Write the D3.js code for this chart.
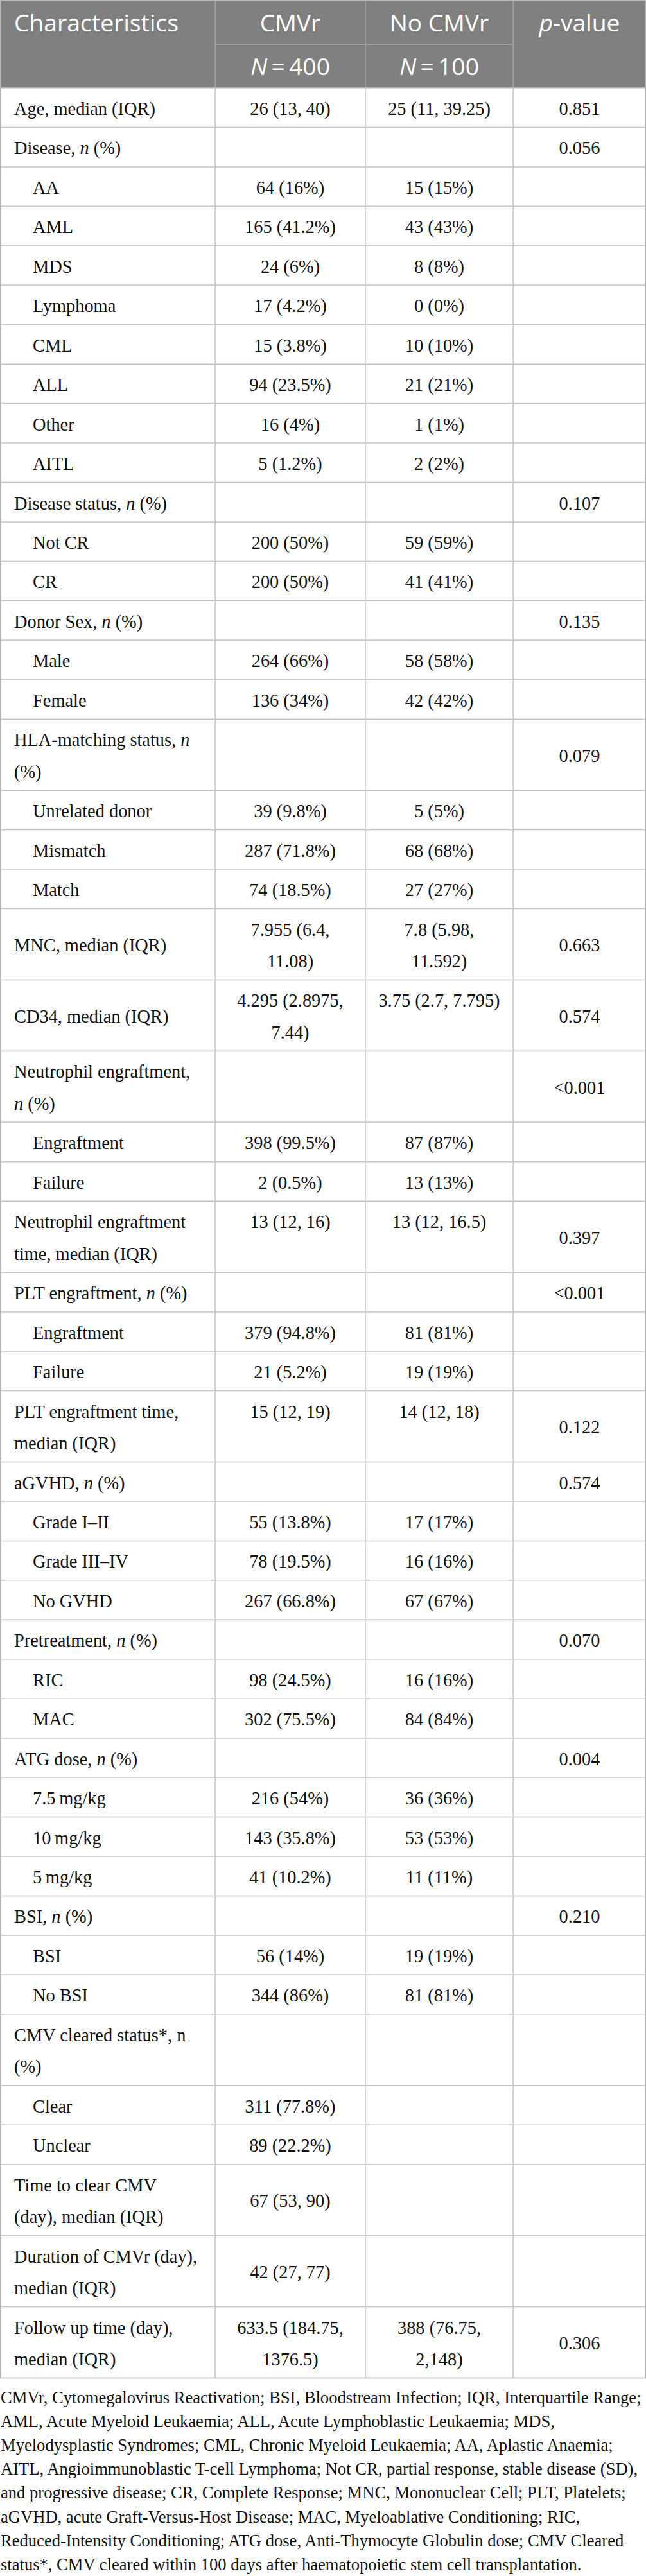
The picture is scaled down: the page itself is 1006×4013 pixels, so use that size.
<!DOCTYPE html>
<html>
<head>
<meta charset="utf-8">
<script src="https://cdn.jsdelivr.net/npm/d3@7"></script>
<style>
  body { margin: 0; background: #fff; }
  svg { display: block; }
</style>
</head>
<body>
<script>
// table content, one entry per row ("\n" breaks a cell, _n_ is italic)
const characteristics = [
  "Age, median (IQR)", "Disease, _n_ (%)", "AA", "AML", "MDS", "Lymphoma", "CML", "ALL", "Other", "AITL",
  "Disease status, _n_ (%)", "Not CR", "CR",
  "Donor Sex, _n_ (%)", "Male", "Female",
  "HLA-matching status, _n_\n(%)", "Unrelated donor", "Mismatch", "Match",
  "MNC, median (IQR)", "CD34, median (IQR)",
  "Neutrophil engraftment,\n_n_ (%)", "Engraftment", "Failure",
  "Neutrophil engraftment\ntime, median (IQR)",
  "PLT engraftment, _n_ (%)", "Engraftment", "Failure",
  "PLT engraftment time,\nmedian (IQR)",
  "aGVHD, _n_ (%)", "Grade I\u2013II", "Grade III\u2013IV", "No GVHD",
  "Pretreatment, _n_ (%)", "RIC", "MAC",
  "ATG dose, _n_ (%)", "7.5\u2009mg/kg", "10\u2009mg/kg", "5\u2009mg/kg",
  "BSI, _n_ (%)", "BSI", "No BSI",
  "CMV cleared status*, n\n(%)", "Clear", "Unclear",
  "Time to clear CMV\n(day), median (IQR)",
  "Duration of CMVr (day),\nmedian (IQR)",
  "Follow up time (day),\nmedian (IQR)"
];
const subLevel = [
  0, 0, 1, 1, 1, 1, 1, 1, 1, 1,
  0, 1, 1,
  0, 1, 1,
  0, 1, 1, 1,
  0, 0,
  0, 1, 1,
  0,
  0, 1, 1,
  0,
  0, 1, 1, 1,
  0, 1, 1,
  0, 1, 1, 1,
  0, 1, 1,
  0, 1, 1,
  0, 0, 0
];
const cmvr = [
  "26 (13, 40)", "", "64 (16%)", "165 (41.2%)", "24 (6%)", "17 (4.2%)", "15 (3.8%)", "94 (23.5%)", "16 (4%)", "5 (1.2%)",
  "", "200 (50%)", "200 (50%)",
  "", "264 (66%)", "136 (34%)",
  "", "39 (9.8%)", "287 (71.8%)", "74 (18.5%)",
  "7.955 (6.4,\n11.08)", "4.295 (2.8975,\n7.44)",
  "", "398 (99.5%)", "2 (0.5%)",
  "13 (12, 16)\n",
  "", "379 (94.8%)", "21 (5.2%)",
  "15 (12, 19)\n",
  "", "55 (13.8%)", "78 (19.5%)", "267 (66.8%)",
  "", "98 (24.5%)", "302 (75.5%)",
  "", "216 (54%)", "143 (35.8%)", "41 (10.2%)",
  "", "56 (14%)", "344 (86%)",
  "", "311 (77.8%)", "89 (22.2%)",
  "67 (53, 90)",
  "42 (27, 77)",
  "633.5 (184.75,\n1376.5)"
];
const noCmvr = [
  "25 (11, 39.25)", "", "15 (15%)", "43 (43%)", "8 (8%)", "0 (0%)", "10 (10%)", "21 (21%)", "1 (1%)", "2 (2%)",
  "", "59 (59%)", "41 (41%)",
  "", "58 (58%)", "42 (42%)",
  "", "5 (5%)", "68 (68%)", "27 (27%)",
  "7.8 (5.98,\n11.592)", "3.75 (2.7, 7.795)\n",
  "", "87 (87%)", "13 (13%)",
  "13 (12, 16.5)\n",
  "", "81 (81%)", "19 (19%)",
  "14 (12, 18)\n",
  "", "17 (17%)", "16 (16%)", "67 (67%)",
  "", "16 (16%)", "84 (84%)",
  "", "36 (36%)", "53 (53%)", "11 (11%)",
  "", "19 (19%)", "81 (81%)",
  "", "", "",
  "",
  "",
  "388 (76.75,\n2,148)"
];
const pValues = [
  "0.851", "0.056", "", "", "", "", "", "", "", "",
  "0.107", "", "",
  "0.135", "", "",
  "0.079", "", "", "",
  "0.663", "0.574",
  "<0.001", "", "",
  "0.397",
  "<0.001", "", "",
  "0.122",
  "0.574", "", "", "",
  "0.070", "", "",
  "0.004", "", "", "",
  "0.210", "", "",
  "", "", "",
  "",
  "",
  "0.306"
];
const headerTop = ["Characteristics", "CMVr", "No CMVr", "_p_-value"];
const headerN = ["", "_N_\u2009=\u2009400", "_N_\u2009=\u2009100", ""];
const footnote = [
  "CMVr, Cytomegalovirus Reactivation; BSI, Bloodstream Infection; IQR, Interquartile Range;",
  "AML, Acute Myeloid Leukaemia; ALL, Acute Lymphoblastic Leukaemia; MDS,",
  "Myelodysplastic Syndromes; CML, Chronic Myeloid Leukaemia; AA, Aplastic Anaemia;",
  "AITL, Angioimmunoblastic T-cell Lymphoma; Not CR, partial response, stable disease (SD),",
  "and progressive disease; CR, Complete Response; MNC, Mononuclear Cell; PLT, Platelets;",
  "aGVHD, acute Graft-Versus-Host Disease; MAC, Myeloablative Conditioning; RIC,",
  "Reduced-Intensity Conditioning; ATG dose, Anti-Thymocyte Globulin dose; CMV Cleared",
  "status*, CMV cleared within 100 days after haematopoietic stem cell transplantation."
];

const width = 1006;
const height = 4013;
const colEdges = [0, 335, 569, 799, 1006];
const headerH = 137;
const lineH = 49.5;
const rowPad = 11.95;
const serif = "'Liberation Serif', 'Times New Roman', serif";
const sans = "'Open Sans', 'Noto Sans', sans-serif";

const svg = d3.select('body').append('svg')
  .attr('width', width)
  .attr('height', height);

// fit a font size so a sample string has a given width
function fitSize(family, sample, target) {
  const probe = svg.append('text').attr('font-family', family).attr('font-size', 100).text(sample);
  const w = probe.node().getComputedTextLength();
  probe.remove();
  return 100 * target / w;
}
const bodySize = fitSize(serif, "Age, median (IQR)", 220);
const headSize = fitSize(sans, "Characteristics", 256);
const noteSize = fitSize(serif, footnote[0], 998);

// write a line that may contain _italic_ pieces
function writeLine(sel, str) {
  str.split(/(_[^_]+_)/).filter(s => s.length).forEach(part => {
    const it = part.startsWith('_') && part.endsWith('_');
    sel.append('tspan')
      .attr('font-style', it ? 'italic' : null)
      .text(it ? part.slice(1, -1) : part);
  });
}

// rows
const rows = characteristics.map((c, i) => ({
  cells: [c, cmvr[i], noCmvr[i], pValues[i]],
  sub: subLevel[i],
  lines: d3.max([c, cmvr[i], noCmvr[i], pValues[i]], s => s.split('\n').length)
}));
const rowH = rows.map(r => rowPad + lineH * r.lines);
const rowTops = [headerH, ...d3.cumsum(rowH).map(v => v + headerH)];
const tableBottom = rowTops[rows.length];

const y = d3.scaleLinear().domain([0, rows.length]).range([headerH, tableBottom]);
const colCenter = d3.range(4).map(i => (colEdges[i] + colEdges[i + 1]) / 2);

// header
const head = svg.append('g');
head.append('rect')
  .attr('x', 0).attr('y', 0)
  .attr('width', width).attr('height', headerH)
  .attr('fill', '#808080');

head.selectAll('text.top').data(headerTop).join('text')
  .attr('class', 'top')
  .attr('x', (d, i) => i === 0 ? 22 : colCenter[i])
  .attr('y', 49)
  .attr('text-anchor', (d, i) => i === 0 ? 'start' : 'middle')
  .attr('font-family', sans)
  .attr('font-size', headSize)
  .attr('fill', '#fff')
  .each(function (d) { writeLine(d3.select(this), d); });

head.selectAll('text.n').data(headerN).join('text')
  .attr('class', 'n')
  .attr('x', (d, i) => colCenter[i])
  .attr('y', 117)
  .attr('text-anchor', 'middle')
  .attr('font-family', sans)
  .attr('font-size', headSize)
  .attr('fill', '#fff')
  .each(function (d) { writeLine(d3.select(this), d); });

// header grid lines
head.append('line')
  .attr('x1', colEdges[1]).attr('x2', colEdges[3])
  .attr('y1', 69).attr('y2', 69)
  .attr('stroke', '#a6a6a6').attr('stroke-width', 1.5);
head.selectAll('line.v').data(colEdges.slice(1, 4)).join('line')
  .attr('class', 'v')
  .attr('x1', d => d).attr('x2', d => d)
  .attr('y1', 0).attr('y2', headerH)
  .attr('stroke', '#a6a6a6').attr('stroke-width', 1.5);

// body grid
const grid = svg.append('g')
  .attr('stroke', '#c4c4c4')
  .attr('stroke-width', 1.5);
grid.selectAll('line.h').data(rowTops).join('line')
  .attr('class', 'h')
  .attr('x1', 0).attr('x2', width)
  .attr('y1', d => d).attr('y2', d => d);
grid.selectAll('line.v').data(colEdges).join('line')
  .attr('class', 'v')
  .attr('x1', d => Math.min(Math.max(d, 0.75), width - 0.75))
  .attr('x2', d => Math.min(Math.max(d, 0.75), width - 0.75))
  .attr('y1', headerH).attr('y2', tableBottom);
svg.append('rect')
  .attr('x', 0.75).attr('y', 0.75)
  .attr('width', width - 1.5).attr('height', tableBottom - 0.75)
  .attr('fill', 'none')
  .attr('stroke', '#b8b8b8').attr('stroke-width', 1.5);

// body cells
const body = svg.append('g')
  .attr('font-family', serif)
  .attr('font-size', bodySize)
  .attr('fill', '#111');

const rowG = body.selectAll('g.row').data(rows).join('g')
  .attr('class', 'row')
  .attr('transform', (d, i) => `translate(0, ${y(i) + (rowTops[i] - y(i))})`);

rowG.each(function (r, i) {
  const g = d3.select(this);
  const mid = rowH[i] / 2;
  r.cells.forEach((cell, c) => {
    if (!cell) return;
    const parts = cell.split('\n');
    const first = mid - (parts.length - 1) * lineH / 2 + 11.3;
    parts.forEach((ln, k) => {
      if (!ln) return;
      const t = g.append('text')
        .attr('x', c === 0 ? (r.sub ? 51 : 22) : colCenter[c])
        .attr('y', first + k * lineH)
        .attr('text-anchor', c === 0 ? 'start' : 'middle');
      writeLine(t, ln);
    });
  });
});

// footnote
svg.append('g')
  .attr('font-family', serif)
  .attr('font-size', noteSize)
  .attr('fill', '#111')
  .selectAll('text').data(footnote).join('text')
  .attr('x', 1)
  .attr('y', (d, i) => 3744 + i * 37.1)
  .text(d => d);
</script>
</body>
</html>
